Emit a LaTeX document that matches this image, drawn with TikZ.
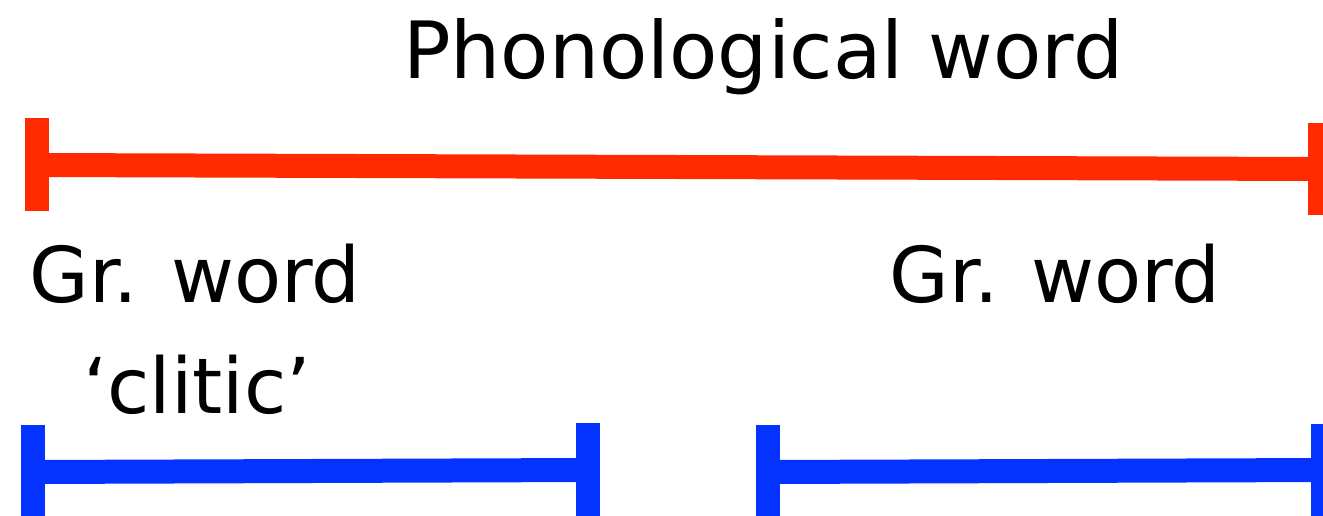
\documentclass[tikz,border=0pt]{standalone}
\usepackage{fontspec}
\setmainfont{DejaVu Sans}
\definecolor{phred}{RGB}{255,42,0}
\definecolor{grblue}{RGB}{4,51,255}
\begin{document}
\begin{tikzpicture}[x=1pt,y=-1pt,
  lbl/.style={inner sep=0pt,anchor=base,font=\fontsize{77}{92}\selectfont},
  redbar/.style={draw=phred,line width=24pt},
  bluebar/.style={draw=grblue,line width=24pt}]
\useasboundingbox (0,0) rectangle (1323,515);
\clip (0,0) rectangle (1323,515);
% labels
\node[lbl,font=\fontsize{79}{95}\selectfont] (pw) at (763,78) {Phonological word};
\node[lbl] (gw1) at (195,302) {Gr. word};
\node[lbl] (cl) at (197,413) {‘clitic’};
\node[lbl] (gw2) at (1055,302) {Gr. word};
% red span
\coordinate (rl) at (37,165);
\coordinate (rr) at (1320,169);
\draw[redbar] (rl) -- (rr);
\draw[redbar] ([yshift=47pt]rl) -- ([yshift=-46pt]rl);
\draw[redbar] ([yshift=46pt]rr) -- ([yshift=-46pt]rr);
% blue span 1
\coordinate (b1l) at (33,472);
\coordinate (b1r) at (588,470);
\draw[bluebar] (b1l) -- (b1r);
\draw[bluebar] ([yshift=47pt]b1l) -- ([yshift=-60pt]b1l);
\draw[bluebar] ([yshift=47pt]b1r) -- ([yshift=-60pt]b1r);
% blue span 2
\coordinate (b2l) at (768,472);
\coordinate (b2r) at (1323,470);
\draw[bluebar] (b2l) -- (b2r);
\draw[bluebar] ([yshift=47pt]b2l) -- ([yshift=-60pt]b2l);
\draw[bluebar] ([yshift=46pt]b2r) -- ([yshift=-60pt]b2r);
\end{tikzpicture}
\end{document}
